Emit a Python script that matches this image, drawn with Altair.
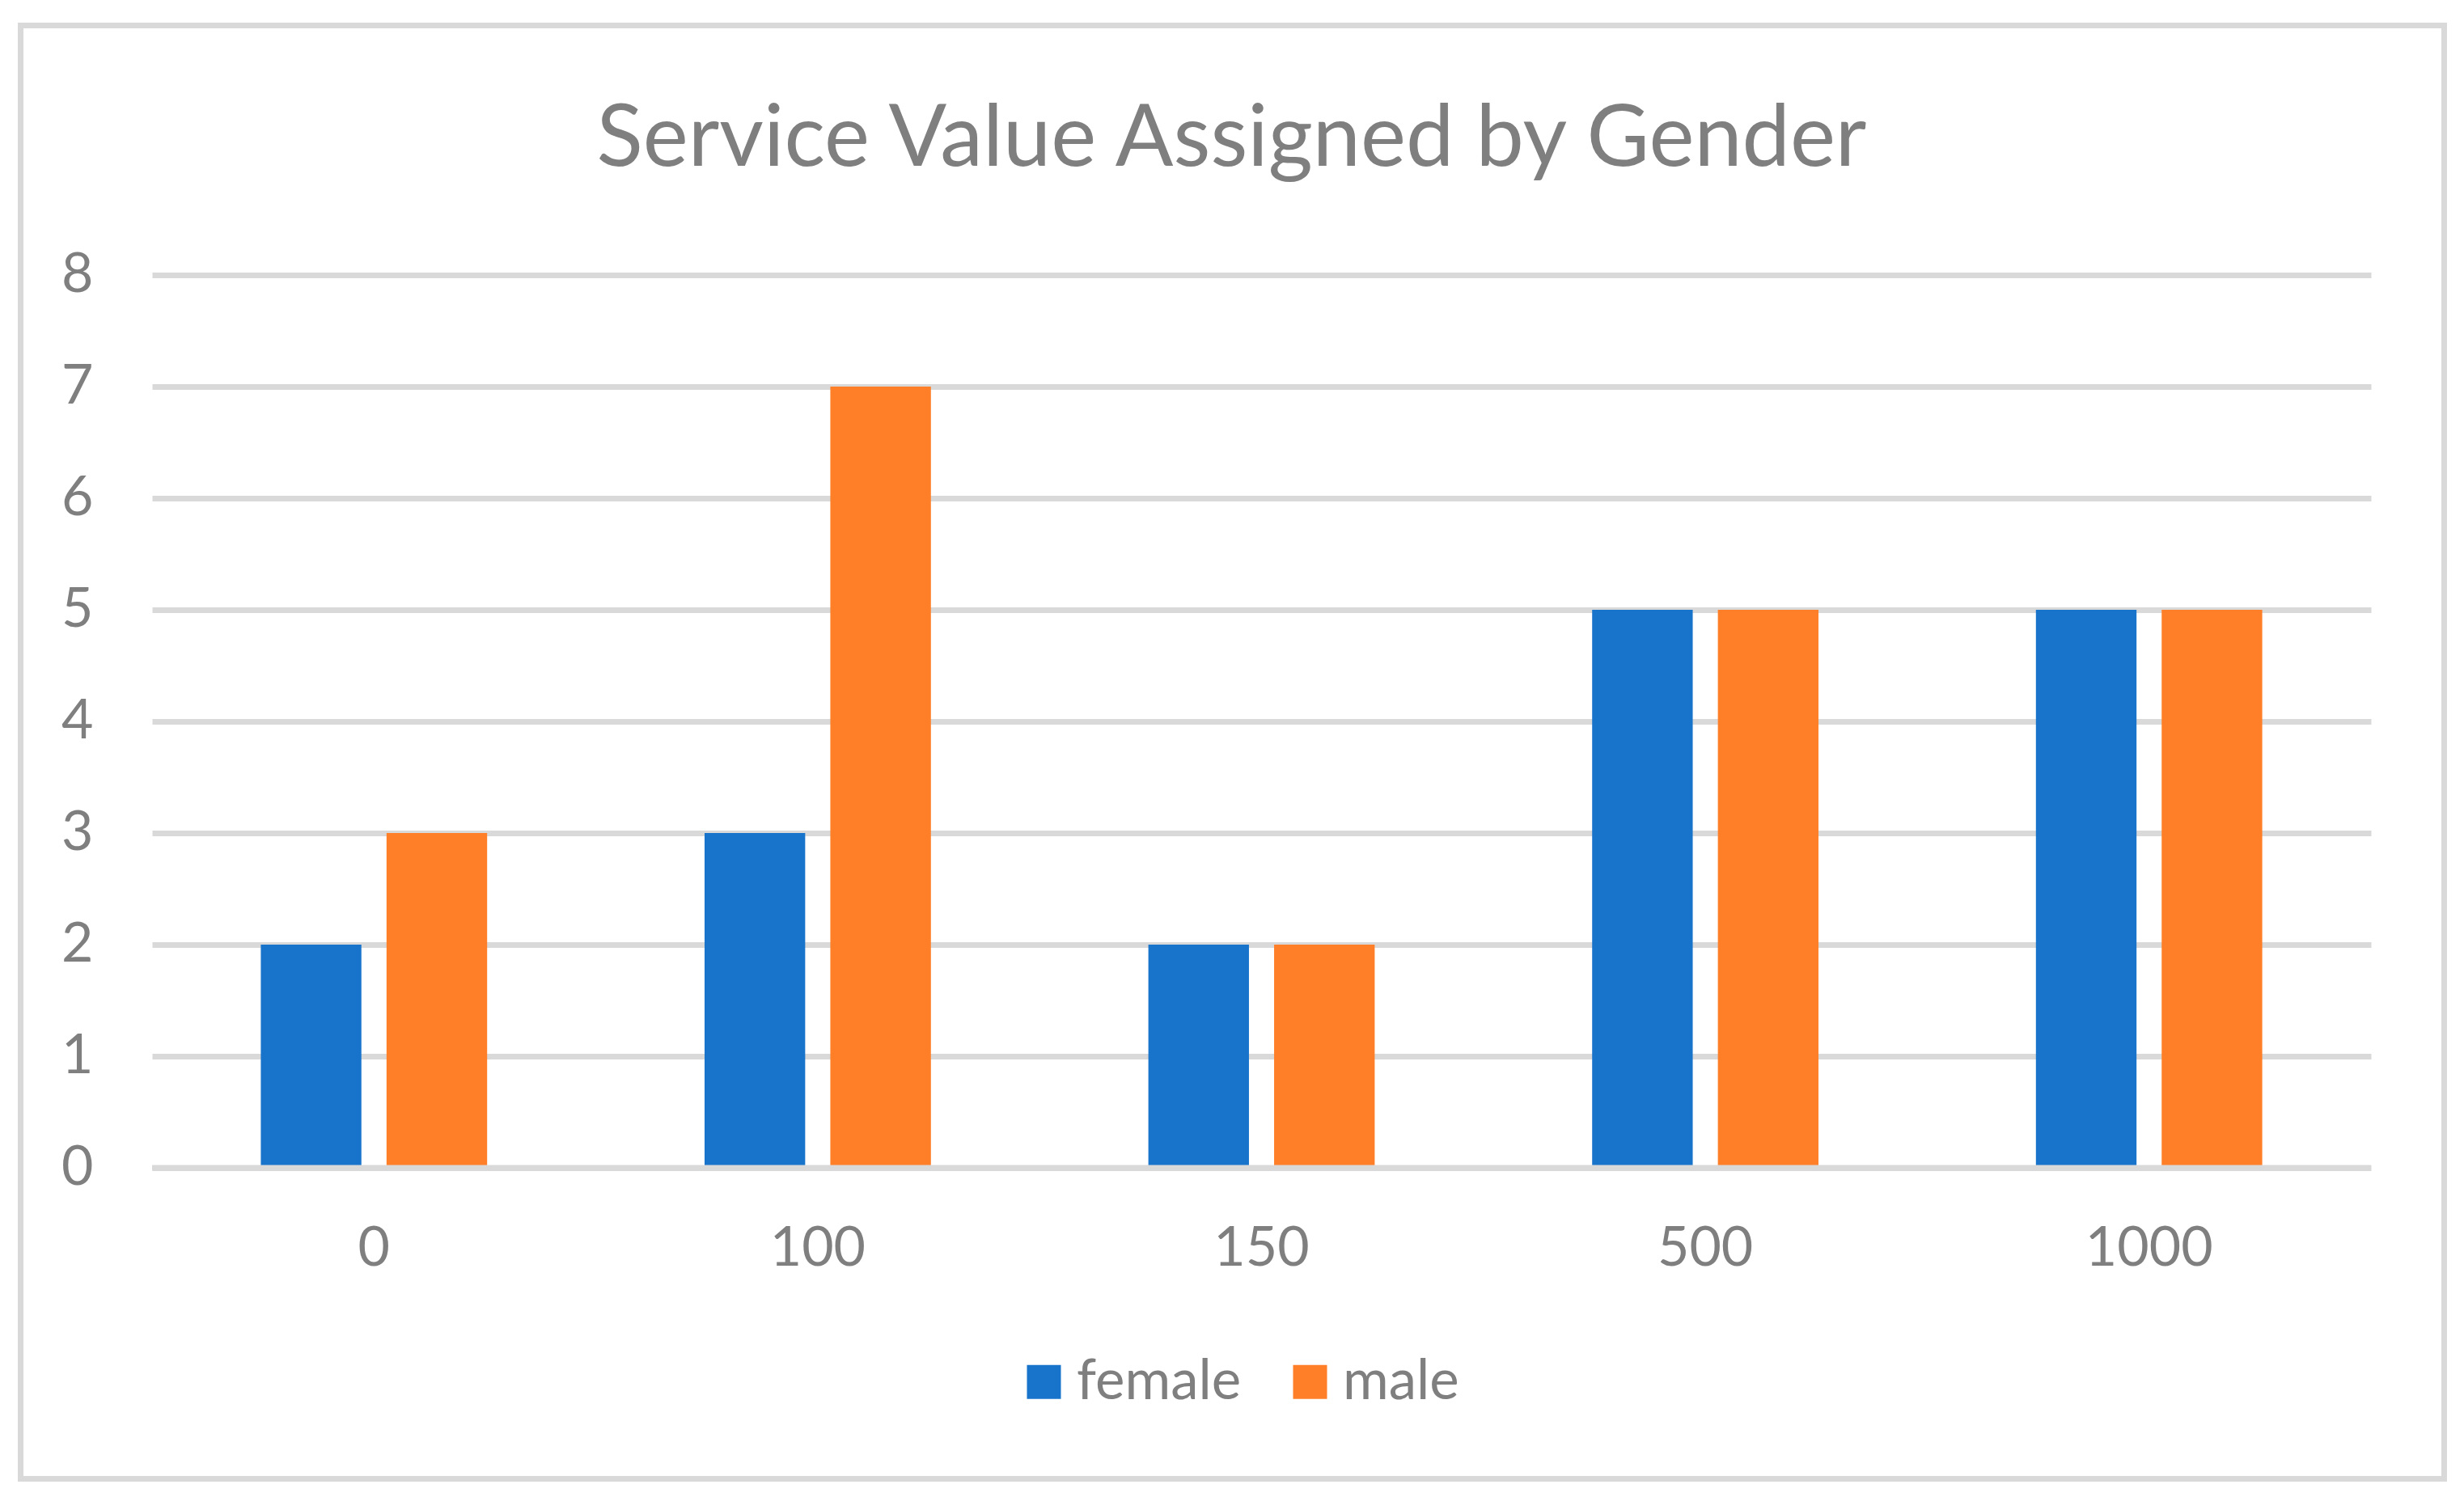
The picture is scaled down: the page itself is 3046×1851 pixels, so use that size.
import altair as alt
import pandas as pd

categories = ["0", "100", "150", "500", "1000"]
series = ["female", "male"]
female = [2, 3, 2, 5, 5]
male = [3, 7, 2, 5, 5]
colors = ["#1874CB", "#FE7F27"]
y_ticks = [0, 1, 2, 3, 4, 5, 6, 7, 8]
title_text = "Service Value Assigned by Gender"

rows = []
for i, c in enumerate(categories):
    rows.append({"category": c, "gender": "female", "value": female[i]})
    rows.append({"category": c, "gender": "male", "value": male[i]})
df = pd.DataFrame(rows)

W, H = 2743, 1104
grey = "#7f7f7f"
gridc = "#d9d9d9"
FONT = "Lato"

bars = alt.Chart(df).mark_bar().encode(
    x=alt.X(
        "category:N", sort=categories,
        scale=alt.Scale(paddingInner=0.49, paddingOuter=0.245),
        axis=alt.Axis(title=None, labelAngle=0, ticks=False, tickSize=0, domain=False,
                      grid=False, labelFont=FONT, labelFontSize=68, labelColor=grey,
                      labelPadding=66),
    ),
    xOffset=alt.XOffset("gender:N", sort=series,
                        scale=alt.Scale(paddingInner=0.2, paddingOuter=0)),
    y=alt.Y(
        "value:Q", scale=alt.Scale(domain=[0, 8], nice=False),
        axis=alt.Axis(title=None, values=y_ticks, format="d", ticks=False, tickSize=0,
                      domain=False, grid=True, gridColor=gridc, gridWidth=7,
                      labelFont=FONT, labelFontSize=68, labelColor=grey,
                      labelPadding=73),
    ),
    color=alt.Color(
        "gender:N", sort=series,
        scale=alt.Scale(domain=series, range=colors),
        legend=alt.Legend(title=None, orient="none", direction="horizontal",
                          legendX=1068, legendY=1334, symbolType="square",
                          symbolSize=1764, symbolStrokeWidth=0, labelFont=FONT,
                          labelFontSize=69, labelColor=grey, columnPadding=50,
                          labelOffset=6, labelLimit=1000, padding=0),
    ),
)

zero_rule = alt.Chart(pd.DataFrame({"v": [0]})).mark_rule(
    color=gridc, strokeWidth=7
).encode(y="v:Q")

frame = alt.Chart(pd.DataFrame({"a": [0]})).mark_rect(
    filled=False, stroke=gridc, strokeWidth=7
).encode(
    x=alt.value(-162.5), x2=alt.value(2833.5),
    y=alt.value(-308.5), y2=alt.value(1488.5),
)

chart = alt.layer(bars, zero_rule, frame).properties(
    width=W, height=H,
    title=alt.TitleParams(title_text, font=FONT, fontSize=106, fontWeight="normal",
                          color=grey, anchor="middle", dx=-37, offset=0, dy=283,
                          baseline="alphabetic"),
    autosize=alt.AutoSizeParams(type="none"),
    padding={"left": 180, "top": 332, "right": 100, "bottom": 395},
    background="white",
).configure_view(stroke=None)

chart.save("out.html", embed_options={"renderer": "svg", "actions": False})
